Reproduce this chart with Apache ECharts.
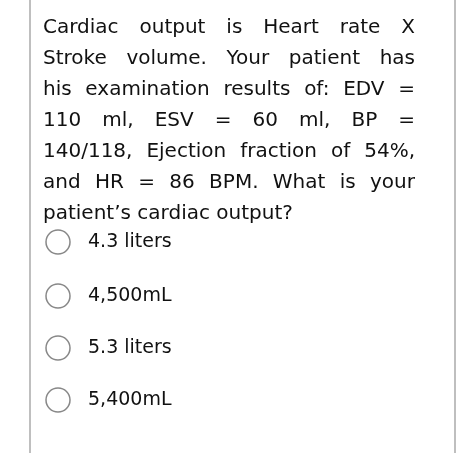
<!DOCTYPE html>
<html>
<head>
<meta charset="utf-8">
<script src="https://cdn.jsdelivr.net/npm/echarts@6/dist/echarts.min.js"></script>
<style>
  html, body { margin: 0; padding: 0; background: #fff; }
  #chart { width: 474px; height: 453px; }
</style>
</head>
<body>
<div id="chart"></div>
<script>
// question text, one entry per printed line (last line is not justified)
const questionLines = [
  "Cardiac output is Heart rate X",
  "Stroke volume.  Your patient has",
  "his examination results of:  EDV =",
  "110 ml, ESV = 60 ml, BP =",
  "140/118, Ejection fraction of 54%,",
  "and HR = 86 BPM.  What is your",
  "patient\u2019s cardiac output?"
];
const answerChoices = ["4.3 liters", "4,500mL", "5.3 liters", "5,400mL"];
const answerY = [242, 296, 348, 400];

const font = '20px "DejaVu Sans"';
const measure = document.createElement("canvas").getContext("2d");
measure.font = font;

const left = 43, right = 415;
const elements = [];

// card borders
elements.push({ type: "line", shape: { x1: 30, y1: 0, x2: 30, y2: 453 }, style: { stroke: "#aaa", lineWidth: 1.5 } });
elements.push({ type: "line", shape: { x1: 455, y1: 0, x2: 455, y2: 453 }, style: { stroke: "#aaa", lineWidth: 1.5 } });

questionLines.forEach((line, i) => {
  const y = 28 + i * 31;
  const words = line.split(/\s+/);
  if (i === questionLines.length - 1) {
    elements.push({ type: "text", x: left, y: y, style: { text: line, font: font, fill: "#111", textVerticalAlign: "middle" } });
    return;
  }
  const widths = words.map((w) => measure.measureText(w).width);
  const total = widths.reduce((a, b) => a + b, 0);
  const gap = (right - left - total) / (words.length - 1);
  let x = left;
  words.forEach((w, j) => {
    elements.push({ type: "text", x: x, y: y, style: { text: w, font: font, fill: "#111", textVerticalAlign: "middle" } });
    x += widths[j] + gap;
  });
});

answerChoices.forEach((label, i) => {
  const y = answerY[i];
  elements.push({ type: "circle", shape: { cx: 58, cy: y, r: 12 }, style: { fill: "#fff", stroke: "#888", lineWidth: 1.5 } });
  elements.push({ type: "text", x: 88, y: y, style: { text: label, font: '19px "DejaVu Sans"', fill: "#111", textVerticalAlign: "middle" } });
});

const chart = echarts.init(document.getElementById("chart"), null, { renderer: "canvas" });
chart.setOption({ backgroundColor: "#fff", animation: false, graphic: { elements: elements } });
</script>
</body>
</html>
